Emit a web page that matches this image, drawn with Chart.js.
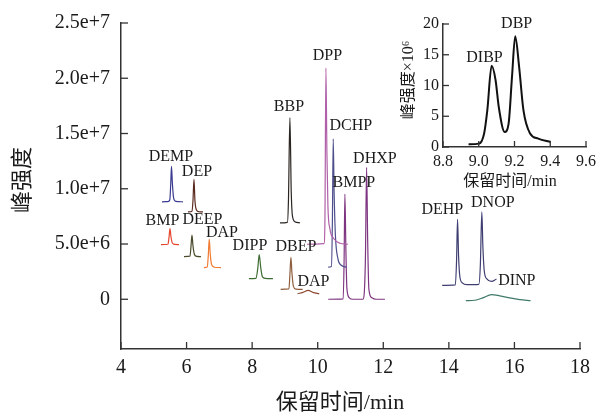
<!DOCTYPE html>
<html>
<head>
<meta charset="utf-8">
<script src="https://cdn.jsdelivr.net/npm/chart.js@4.4.0/dist/chart.umd.min.js"></script>
<style>
  body { margin: 0; background: #fff; }
  #wrap { position: relative; width: 601px; height: 413px; }
  #main { position: absolute; left: 0; top: 0; }
  #inset { position: absolute; left: 400px; top: 0; }
</style>
</head>
<body>
<div id="wrap">
  <canvas id="main" width="601" height="413"></canvas>
  <canvas id="inset" width="201" height="200"></canvas>
</div>
<script>
// retention time (min) and intensity (x1e6)

const xTicks = [4, 6, 8, 10, 12, 14, 16, 18];
const yTicks = [0, 5, 10, 15, 20, 25];
const yTickLabels = ["0", "5.0e+6", "1.0e+7", "1.5e+7", "2.0e+7", "2.5e+7"];

const demp_t = [5.250, 5.433, 5.488, 5.518, 5.540, 5.567, 5.601, 5.646, 5.738, 5.890];
const demp_v = [8.82, 8.84, 8.98, 10.50, 12.03, 10.50, 9.25, 8.90, 8.84, 8.82];

const dep_t = [6.043, 6.165, 6.195, 6.226, 6.256, 6.302, 6.378, 6.500];
const dep_v = [7.90, 7.94, 8.89, 10.86, 8.89, 8.08, 7.92, 7.90];

const bmp_t = [5.220, 5.433, 5.463, 5.494, 5.524, 5.570, 5.646, 5.768];
const bmp_v = [4.94, 4.98, 5.57, 6.40, 5.66, 5.07, 4.96, 4.94];

const deep_t = [5.921, 6.104, 6.134, 6.165, 6.195, 6.241, 6.317, 6.439];
const deep_v = [3.86, 3.90, 4.76, 5.81, 4.85, 4.04, 3.88, 3.86];

const dap_t = [6.530, 6.631, 6.662, 6.692, 6.723, 6.768, 6.851, 7.049];
const dap_v = [2.87, 2.92, 3.95, 5.45, 4.04, 3.10, 2.90, 2.87];

const dipp_t = [7.902, 8.116, 8.171, 8.216, 8.262, 8.314, 8.405, 8.634];
const dipp_v = [1.86, 1.89, 2.78, 4.04, 2.87, 2.02, 1.89, 1.86];

const dbep_t = [8.869, 9.122, 9.152, 9.183, 9.213, 9.259, 9.335, 9.540];
const dbep_v = [0.90, 0.94, 2.24, 3.80, 2.42, 1.17, 0.92, 0.90];

const dap2_t = [9.387, 9.549, 9.710, 9.854, 10.046];
const dap2_v = [0.51, 0.63, 0.81, 0.63, 0.49];

const bbp_t = [8.848, 9.076, 9.107, 9.152, 9.192, 9.229, 9.305, 9.457];
const bbp_v = [6.91, 6.96, 8.89, 16.43, 9.78, 7.54, 7.02, 6.91];

const dpp_t = [9.671, 10.189, 10.220, 10.250, 10.280, 10.311, 10.372, 10.494, 10.677, 10.921];
const dpp_v = [4.98, 5.03, 7.09, 20.92, 13.38, 8.44, 6.37, 5.48, 5.07, 4.98];

const dchp_t = [10.320, 10.418, 10.448, 10.473, 10.500, 10.540, 10.616, 10.707, 10.881];
const dchp_v = [2.90, 2.96, 7.09, 14.52, 9.78, 5.75, 3.68, 3.10, 2.90];

// BMPP and DHXP share one trace
const bmpp_t = [10.320, 10.777, 10.805, 10.829, 10.860, 10.890, 10.966, 11.073, 11.378, 11.454, 11.491, 11.524, 11.561, 11.652, 11.774, 12.049];
const bmpp_v = [0, 0.03, 3.56, 9.52, 4.40, 0.99, 0.13, 0, 0, 3.50, 11.94, 5.30, 0.90, 0.13, 0, 0];

// DEHP and DNOP share one trace
const dehp_t = [13.796, 14.198, 14.235, 14.265, 14.296, 14.335, 14.412, 14.549, 14.915, 14.960, 15.006, 15.037, 15.082, 15.159, 15.302, 15.454];
const dehp_v = [1.26, 1.30, 3.50, 7.24, 3.95, 2.06, 1.48, 1.32, 1.35, 3.05, 7.90, 4.85, 2.51, 1.84, 1.62, 1.84];

const dinp_t = [14.518, 14.793, 15.037, 15.302, 15.555, 15.860, 16.165, 16.491];
const dinp_v = [-0.13, -0.09, 0.13, 0.42, 0.31, 0.13, -0.04, -0.13];

// inset: DIBP / DBP
const insetXTicks = [8.8, 9.0, 9.2, 9.4, 9.6];
const insetXTickLabels = ["8.8", "9.0", "9.2", "9.4", "9.6"];
const insetYTicks = [0, 5, 10, 15, 20];
const inset_t = [8.943, 9.002, 9.030, 9.048, 9.072, 9.094, 9.112, 9.145, 9.167, 9.186, 9.204, 9.226, 9.250, 9.287, 9.333, 9.403];
const inset_v = [0.44, 0.55, 2.2, 6.0, 13.2, 10.9, 6.5, 2.45, 3.8, 11.4, 18.0, 13.0, 6.0, 2.2, 1.37, 0.8];

// peak names, anchored in data coords
const peakLabels = [
  { text: "DEMP", t: 5.524, v: 12.93 },
  { text: "DEP", t: 6.317, v: 11.58 },
  { text: "BMP", t: 5.265, v: 7.09 },
  { text: "DEEP", t: 6.485, v: 7.18 },
  { text: "DAP", t: 7.079, v: 6.06 },
  { text: "DIPP", t: 7.933, v: 4.80 },
  { text: "DBEP", t: 9.335, v: 4.71 },
  { text: "DAP", t: 9.869, v: 1.62 },
  { text: "BBP", t: 9.122, v: 17.41 },
  { text: "DPP", t: 10.296, v: 22.04 },
  { text: "DCHP", t: 11.012, v: 15.71 },
  { text: "DHXP", t: 11.744, v: 12.70 },
  { text: "BMPP", t: 11.104, v: 10.55 },
  { text: "DEHP", t: 13.802, v: 8.08 },
  { text: "DNOP", t: 15.341, v: 8.75 },
  { text: "DINP", t: 16.073, v: 1.71 }
];
const insetLabels = [
  { text: "DIBP", t: 9.032, v: 14.53 },
  { text: "DBP", t: 9.212, v: 19.98 }
];

const FONT = "'Liberation Serif', 'Noto Sans CJK SC', serif";
const AXIS = "#333";

function trace(t, v, color, w) {
  return {
    data: t.map((x, i) => ({ x: x, y: v[i] })),
    borderColor: color,
    borderWidth: w || 1.2,
    pointRadius: 0,
    fill: false,
    cubicInterpolationMode: "monotone"
  };
}

function decor(cfg) {
  return {
    id: "decor",
    afterDraw(chart) {
      const ctx = chart.ctx, xs = chart.scales.x, ys = chart.scales.y, a = chart.chartArea;
      ctx.save();
      // inward tick marks
      ctx.strokeStyle = AXIS;
      ctx.lineWidth = 1.3;
      xs.ticks.forEach(tk => {
        const p = xs.getPixelForValue(tk.value);
        ctx.beginPath(); ctx.moveTo(p, a.bottom); ctx.lineTo(p, a.bottom - cfg.tickLen); ctx.stroke();
      });
      ys.ticks.forEach(tk => {
        const p = ys.getPixelForValue(tk.value);
        ctx.beginPath(); ctx.moveTo(a.left, p); ctx.lineTo(a.left + cfg.tickLen, p); ctx.stroke();
      });
      ctx.fillStyle = "#1a1a1a";
      ctx.textAlign = "center";
      ctx.textBaseline = "middle";
      ctx.font = cfg.labelFont;
      cfg.labels.forEach(l => ctx.fillText(l.text, xs.getPixelForValue(l.t), ys.getPixelForValue(l.v)));
      ctx.font = cfg.titleFont;
      ctx.fillText(cfg.xTitle[0], cfg.xTitle[1], cfg.xTitle[2]);
      ctx.translate(cfg.yTitle[1], cfg.yTitle[2]);
      ctx.rotate(-Math.PI / 2);
      ctx.fillText(cfg.yTitle[0], 0, 0);
      ctx.restore();
    }
  };
}

function axis(min, max, ticks, labelFn, fontSize, pad, fit) {
  return {
    type: "linear",
    min: min,
    max: max,
    grid: { display: false, drawTicks: false },
    border: { display: true, color: AXIS, width: 1.5 },
    afterBuildTicks: s => { s.ticks = ticks.map(v => ({ value: v })); },
    afterFit: fit,
    ticks: {
      autoSkip: false,
      maxRotation: 0,
      padding: pad,
      color: "#1a1a1a",
      font: { family: FONT, size: fontSize },
      callback: labelFn
    }
  };
}

new Chart(document.getElementById("main"), {
  type: "line",
  data: {
    datasets: [
      trace(demp_t, demp_v, "#3a3a90"),
      trace(dep_t, dep_v, "#5a2a1e"),
      trace(bmp_t, bmp_v, "#e5452d"),
      trace(deep_t, deep_v, "#4b4a2a"),
      trace(dap_t, dap_v, "#f07a32"),
      trace(dipp_t, dipp_v, "#3f6b35"),
      trace(dbep_t, dbep_v, "#8e5e3e"),
      trace(dap2_t, dap2_v, "#8e4a30"),
      trace(bbp_t, bbp_v, "#2b2622"),
      trace(dpp_t, dpp_v, "#b060a8"),
      trace(dchp_t, dchp_v, "#4e4e8c"),
      trace(bmpp_t, bmpp_v, "#7e3580"),
      trace(dehp_t, dehp_v, "#3e3e72"),
      trace(dinp_t, dinp_v, "#3f7a6a")
    ]
  },
  options: {
    responsive: false,
    animation: false,
    layout: { padding: { top: 21, right: 21, left: 0, bottom: 0 } },
    plugins: { legend: { display: false }, tooltip: { enabled: false } },
    scales: {
      x: axis(4, 18, xTicks, v => String(v), 20, 7, s => { s.height = 64; }),
      y: axis(-4.5, 25, yTicks, (v, i) => yTickLabels[i], 20, 11, s => { s.width = 121; })
    }
  },
  plugins: [decor({
    tickLen: 7,
    labels: peakLabels,
    labelFont: "16px " + FONT,
    titleFont: "22px " + FONT,
    xTitle: ["保留时间/min", 340, 403],
    yTitle: ["峰强度", 23, 180]
  })]
});

new Chart(document.getElementById("inset"), {
  type: "line",
  data: { datasets: [trace(inset_t, inset_v, "#111", 2)] },
  options: {
    responsive: false,
    animation: false,
    layout: { padding: { top: 24, right: 14, left: 0, bottom: 0 } },
    plugins: { legend: { display: false }, tooltip: { enabled: false } },
    scales: {
      x: axis(8.8, 9.6, insetXTicks, (v, i) => insetXTickLabels[i], 16, 5, s => { s.height = 53; }),
      y: axis(0, 20, insetYTicks, v => String(v), 16, 4, s => { s.width = 43; })
    }
  },
  plugins: [decor({
    tickLen: 6,
    labels: insetLabels,
    labelFont: "16px " + FONT,
    titleFont: "16px " + FONT,
    xTitle: ["保留时间/min", 110, 182],
    yTitle: ["峰强度×10⁶", 9, 80]
  })]
});
</script>
</body>
</html>
